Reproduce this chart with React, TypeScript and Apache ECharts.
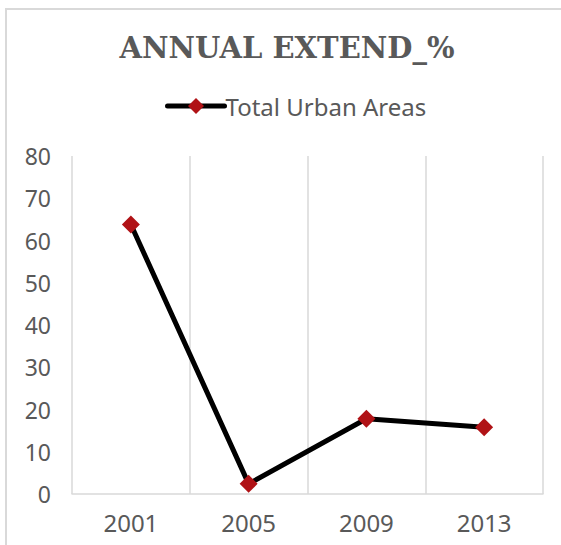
import React, { useEffect, useRef } from "react";
import * as echarts from "echarts";

const titleText = "ANNUAL EXTEND_%";
const seriesName = "Total Urban Areas";
const years = ["2001", "2005", "2009", "2013"];
const values = [63.8, 2.4, 17.8, 15.8];

export default function App() {
  const ref = useRef<HTMLDivElement>(null);
  useEffect(() => {
    const chart = echarts.init(ref.current!, null, { renderer: "svg" });
    chart.setOption({
      animation: false,
      backgroundColor: "#ffffff",
      graphic: [
        {
          type: "rect",
          shape: { x: 6, y: 9, width: 620, height: 620 },
          style: { fill: "none", stroke: "#d9d9d9", lineWidth: 2 },
          silent: true,
        },
        {
          type: "text",
          x: 287,
          y: 48,
          style: {
            text: titleText,
            fontFamily: "DejaVu Serif",
            fontWeight: "bold",
            fontSize: 29,
            fill: "#595959",
            align: "center",
            verticalAlign: "middle",
          },
        },
      ],
      legend: {
        data: [seriesName],
        left: 160,
        top: 89,
        itemWidth: 57,
        itemHeight: 20,
        itemGap: 0,
        lineStyle: { width: 5, cap: "round" },
        textStyle: {
          color: "#595959",
          fontSize: 24,
          fontFamily: "Noto Sans",
          padding: [0, 0, 0, -4],
        },
      },
      grid: { left: 72, right: 18, top: 156, bottom: 51, containLabel: false },
      xAxis: {
        type: "category",
        data: years,
        boundaryGap: true,
        axisLine: { show: true, lineStyle: { color: "#d9d9d9", width: 1.5 } },
        axisTick: { show: false },
        splitLine: { show: true, lineStyle: { color: "#d9d9d9", width: 1.5 } },
        axisLabel: {
          color: "#595959",
          fontSize: 24,
          fontFamily: "Noto Sans",
          margin: 16,
        },
      },
      yAxis: {
        type: "value",
        min: 0,
        max: 80,
        interval: 10,
        axisLine: { show: false },
        axisTick: { show: false },
        splitLine: { show: false },
        axisLabel: {
          color: "#595959",
          fontSize: 23,
          fontFamily: "Noto Sans",
          margin: 21,
        },
      },
      series: [
        {
          name: seriesName,
          type: "line",
          data: values,
          symbol: "diamond",
          symbolSize: 18,
          showAllSymbol: true,
          lineStyle: { color: "#000000", width: 5 },
          itemStyle: { color: "#b01216", borderWidth: 0 },
          z: 3,
        },
      ],
    });
    return () => chart.dispose();
  }, []);
  return (
    <div
      ref={ref}
      style={{ position: "fixed", left: 0, top: 0, width: 561, height: 545 }}
    />
  );
}
